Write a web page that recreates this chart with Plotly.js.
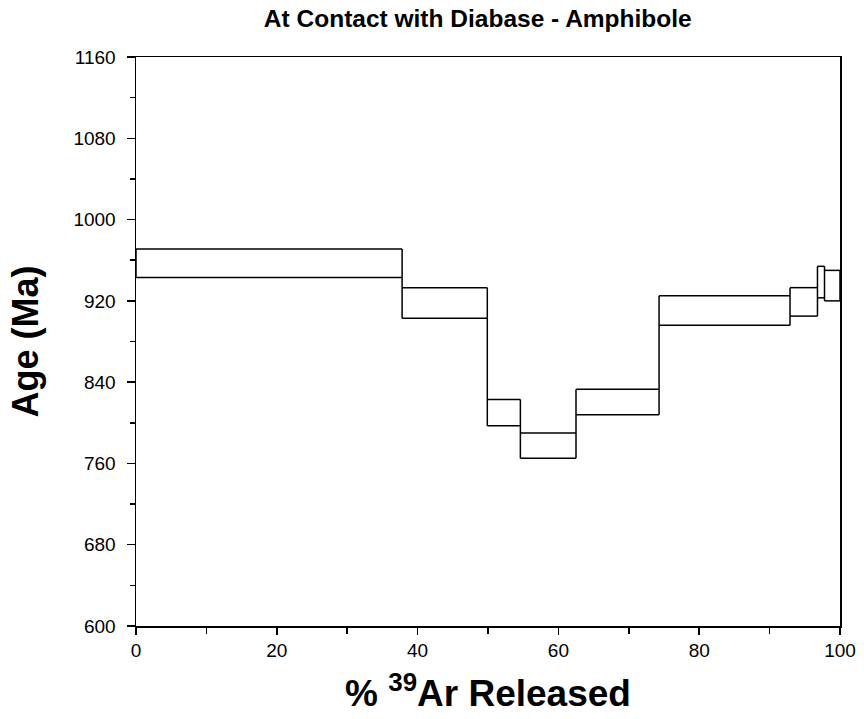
<!DOCTYPE html>
<html>
<head>
<meta charset="utf-8">
<script src="https://cdn.plot.ly/plotly-3.0.1.min.js"></script>
<style>html,body{margin:0;padding:0;background:#fff;}#chart{width:864px;height:719px;}</style>
</head>
<body>
<div id="chart"></div>
<script>
// Step heating data: cumulative % 39Ar release (start/end) and age bounds (Ma)
var stepStart = [0, 37.8, 49.9, 54.6, 62.5, 74.3, 92.9, 96.8, 97.8];
var stepEnd   = [37.8, 49.9, 54.6, 62.5, 74.3, 92.9, 96.8, 97.8, 100];
var ageTop    = [971, 933, 823, 790, 833, 925, 933, 954, 950];
var ageBottom = [943, 903, 797, 765, 808, 896, 905, 923, 920];

var xTickVals = [0, 20, 40, 60, 80, 100];
var yTickVals = [600, 680, 760, 840, 920, 1000, 1080, 1160];

var n = stepStart.length;
// Horizontal edges of each step box
var hx = [], hy = [];
for (var i = 0; i < n; i++) {
  hx.push(stepStart[i], stepEnd[i], null, stepStart[i], stepEnd[i], null);
  hy.push(ageTop[i], ageTop[i], null, ageBottom[i], ageBottom[i], null);
}
// Vertical edges: at each boundary, spanning both adjacent boxes
var vx = [], vy = [];
vx.push(stepStart[0], stepStart[0], null);
vy.push(ageTop[0], ageBottom[0], null);
for (var j = 0; j < n - 1; j++) {
  vx.push(stepEnd[j], stepEnd[j], null);
  vy.push(Math.max(ageTop[j], ageTop[j + 1]), Math.min(ageBottom[j], ageBottom[j + 1]), null);
}
vx.push(stepEnd[n - 1], stepEnd[n - 1], null);
vy.push(ageTop[n - 1], ageBottom[n - 1], null);

var lineStyle = {color: '#000', width: 1.5};
var traces = [
  {x: hx, y: hy, type: 'scatter', mode: 'lines', line: lineStyle, connectgaps: false, hoverinfo: 'skip', showlegend: false},
  {x: vx, y: vy, type: 'scatter', mode: 'lines', line: lineStyle, connectgaps: false, hoverinfo: 'skip', showlegend: false}
];

var fontFam = '"Liberation Sans", Arial, sans-serif';
var layout = {
  width: 864, height: 719,
  margin: {l: 136, r: 24, t: 57, b: 93},
  paper_bgcolor: '#fff', plot_bgcolor: '#fff',
  title: {text: '<b>At Contact with Diabase - Amphibole</b>', font: {family: fontFam, size: 24.5, color: '#000'},
          x: 0.553, xanchor: 'center', y: 0.975, yanchor: 'middle'},
  xaxis: {
    range: [0, 100], tickvals: xTickVals, ticks: 'outside', ticklen: 7, tickwidth: 1.5, tickcolor: '#000',
    minor: {dtick: 10, ticks: 'outside', ticklen: 6, tickwidth: 1.5, tickcolor: '#000'},
    showline: true, linecolor: '#000', linewidth: 1.5, mirror: true, showgrid: false, zeroline: false,
    tickfont: {family: fontFam, size: 19, color: '#000'},
    title: {text: '<b>% <sup>39</sup>Ar Released</b>', font: {family: fontFam, size: 37, color: '#000'}, standoff: 20}
  },
  yaxis: {
    range: [600, 1160], tickvals: yTickVals, ticks: 'outside', ticklen: 8, tickwidth: 1.5, tickcolor: '#000',
    minor: {dtick: 40, ticks: 'outside', ticklen: 5, tickwidth: 1.5, tickcolor: '#000'},
    ticklabelstandoff: 7,
    showline: true, linecolor: '#000', linewidth: 1.5, mirror: true, showgrid: false, zeroline: false,
    tickfont: {family: fontFam, size: 19, color: '#000'},
    title: {text: '<b>Age (Ma)</b>', font: {family: fontFam, size: 36, color: '#000'}, standoff: 24}
  }
};

Plotly.newPlot('chart', traces, layout, {displayModeBar: false, staticPlot: true});
</script>
</body>
</html>
